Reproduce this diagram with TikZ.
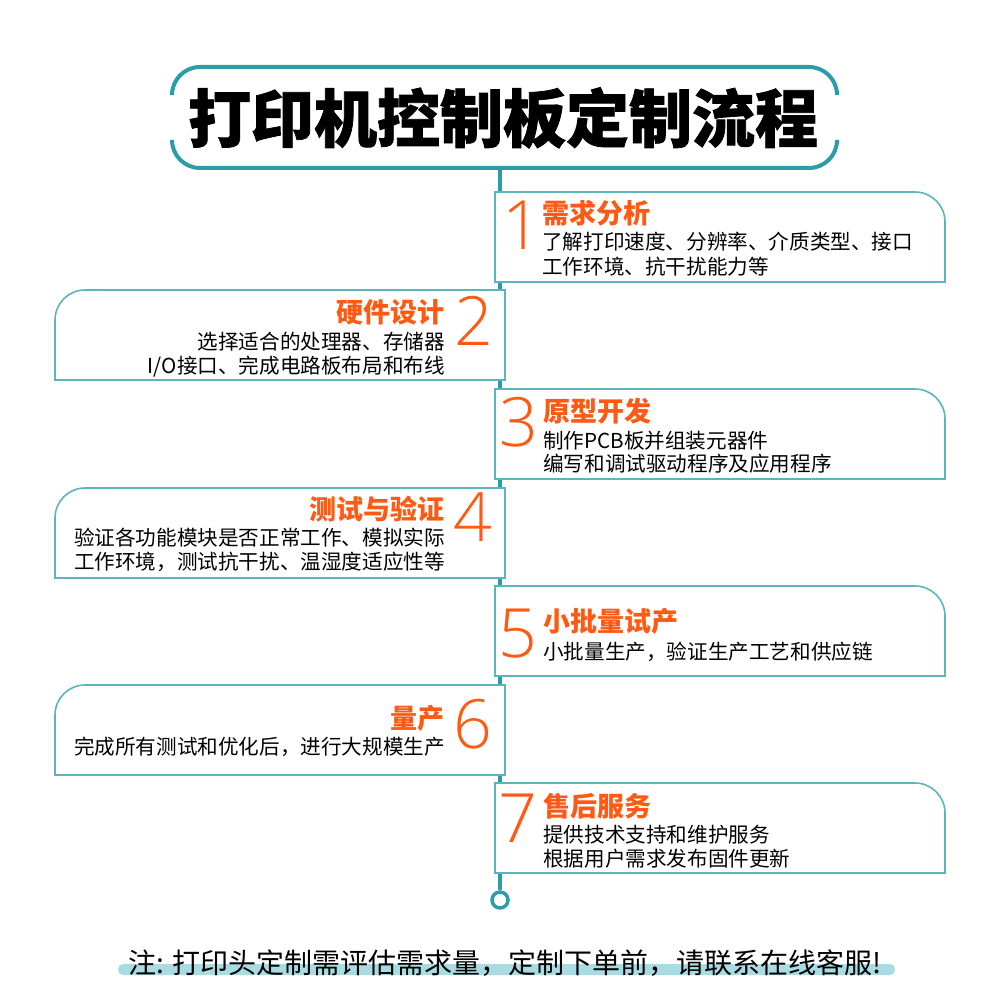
\documentclass[tikz,border=0pt]{standalone}
\usepackage{fontspec}
\setmainfont{Noto Sans CJK SC}
\newfontfamily\titlefont{Noto Sans CJK SC}[FakeBold=1.2]
\IfFontExistsTF{Noto Sans Light}{\newfontfamily\numfont{Noto Sans Light}}{%
  \IfFontExistsTF{Open Sans Light}{\newfontfamily\numfont{Open Sans Light}}{%
    \newfontfamily\numfont{Noto Sans CJK SC}}}
\definecolor{tealline}{HTML}{2A9DA9}
\definecolor{tealbox}{HTML}{5AB5BF}
\definecolor{orng}{HTML}{FF5A14}
\definecolor{hlbar}{HTML}{A9DCE2}
\tikzset{
  boxline/.style={draw=tealbox, line width=1.6pt, fill=white},
  numtxt/.style={text=orng, font=\numfont\fontsize{68}{68}\selectfont, inner sep=0pt, anchor=base, text height=0.72em, text depth=0pt},
  headtxt/.style={text=orng, font=\fontsize{27}{29}\selectfont\bfseries, inner sep=0pt, text height=0.8em, text depth=0.08em},
  bodytxt/.style={text=black, font=\fontsize{20.6}{22}\selectfont, inner sep=0pt, text height=0.8em, text depth=0.08em},
}
\begin{document}
\begin{tikzpicture}[x=1pt,y=-1pt]
\useasboundingbox (0,0) rectangle (1000,1000);
\fill[white] (0,0) rectangle (1000,1000);

% title
\node[font=\titlefont\fontsize{63}{66}\selectfont\bfseries, inner sep=0pt, anchor=base] (title) at (503,142) {打印机控制板定制流程};
\draw[tealline, line width=4pt, rounded corners=28pt] (172,92) -- (172,67) -- (837,67) -- (837,92);
\draw[tealline, line width=4pt, rounded corners=28pt] (172,143) -- (172,168) -- (837,168) -- (837,143);

% spine
\coordinate (top) at (500,168);
\node[circle, draw=tealline, line width=3.5pt, fill=white, minimum size=16pt, inner sep=0pt] (end) at (500,900) {};
\draw[tealline, line width=4pt] (top) -- (end.north);

% right boxes
\foreach \y in {192,389,586,783}{
  \draw[boxline] (495,\y) -- (915,\y) arc[start angle=-90,end angle=0,radius=30] -- (945,\y+90) -- (495,\y+90) -- cycle;
}
% left boxes
\foreach \y in {290,488,685}{
  \draw[boxline] (55,\y+90) -- (55,\y+30) arc[start angle=180,end angle=270,radius=30] -- (505,\y) -- (505,\y+90) -- cycle;
}

% box 1
\node[numtxt] (n1) at (522,250) {1};
\node[headtxt, anchor=base west] (h1) at (542,223) {需求分析};
\node[bodytxt, anchor=base west] (a1) at (542,250) {了解打印速度、分辨率、介质类型、接口};
\node[bodytxt, anchor=base west] (b1) at (542,274) {工作环境、抗干扰能力等};

% box 2
\node[numtxt] (n2) at (474,345) {2};
\node[headtxt, anchor=base east] (h2) at (445,322) {硬件设计};
\node[bodytxt, anchor=base east] (a2) at (445,349) {选择适合的处理器、存储器};
\node[bodytxt, anchor=base east] (b2) at (445,373) {I/O接口、完成电路板布局和布线};

% box 3
\node[numtxt] (n3) at (519,446) {3};
\node[headtxt, anchor=base west] (h3) at (543,421) {原型开发};
\node[bodytxt, anchor=base west] (a3) at (543,448) {制作PCB板并组装元器件};
\node[bodytxt, anchor=base west] (b3) at (543,471) {编写和调试驱动程序及应用程序};

% box 4
\node[numtxt] (n4) at (473,541) {4};
\node[headtxt, anchor=base east] (h4) at (445,519) {测试与验证};
\node[bodytxt, anchor=base east] (a4) at (445,545) {验证各功能模块是否正常工作、模拟实际};
\node[bodytxt, anchor=base east] (b4) at (445,569) {工作环境，测试抗干扰、温湿度适应性等};

% box 5
\node[numtxt] (n5) at (518,657) {5};
\node[headtxt, anchor=base west] (h5) at (543,631) {小批量试产};
\node[bodytxt, anchor=base west] (a5) at (543,659) {小批量生产，验证生产工艺和供应链};

% box 6
\node[numtxt] (n6) at (473,748) {6};
\node[headtxt, anchor=base east] (h6) at (445,728) {量产};
\node[bodytxt, anchor=base east] (a6) at (445,754) {完成所有测试和优化后，进行大规模生产};

% box 7
\node[numtxt] (n7) at (518,842) {7};
\node[headtxt, anchor=base west] (h7) at (543,816) {售后服务};
\node[bodytxt, anchor=base west] (a7) at (543,842) {提供技术支持和维护服务};
\node[bodytxt, anchor=base west] (b7) at (543,866) {根据用户需求发布固件更新};

% footer
\fill[hlbar, rounded corners=5pt] (118,964) rectangle (895,975);
\node[font=\fontsize{28}{30}\selectfont, inner sep=0pt, anchor=base] (note) at (505,973) {注: 打印头定制需评估需求量，定制下单前，请联系在线客服!};
\end{tikzpicture}
\end{document}
